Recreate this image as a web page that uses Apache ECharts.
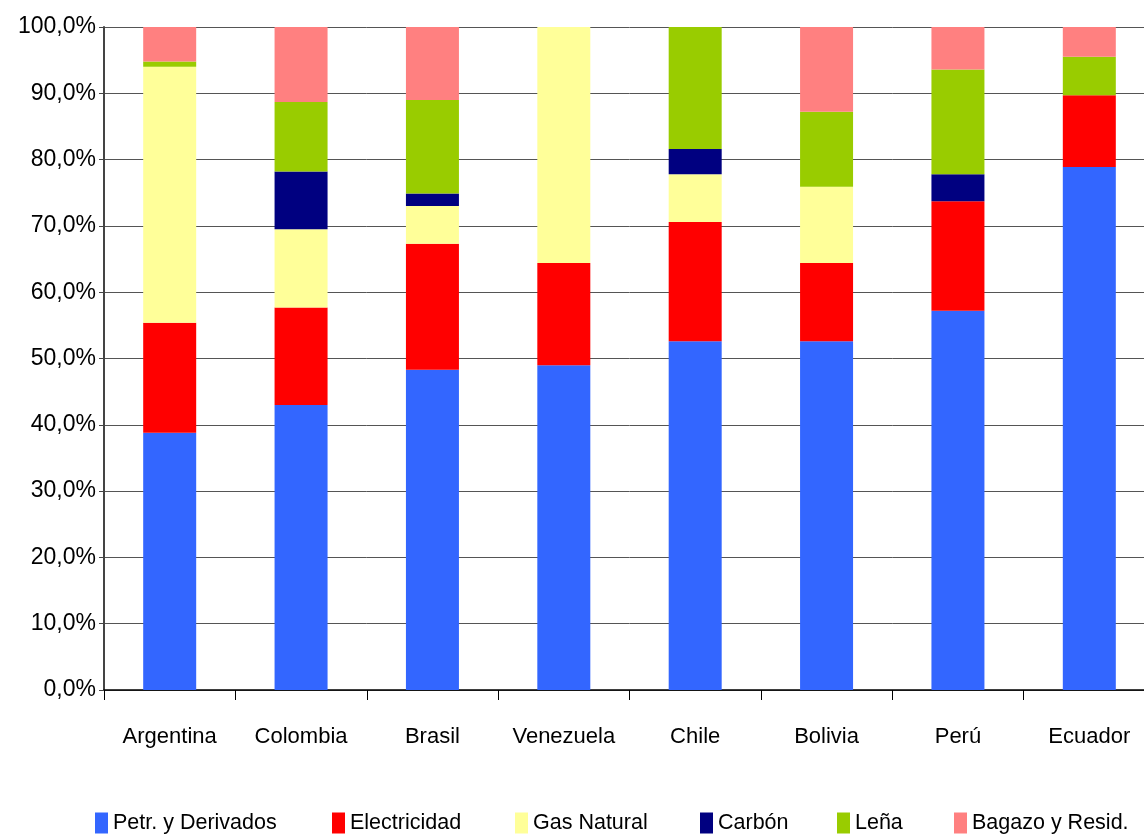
<!DOCTYPE html>
<html>
<head>
<meta charset="utf-8">
<script src="https://cdn.jsdelivr.net/npm/echarts@6/dist/echarts.min.js"></script>
<style>
html,body{margin:0;padding:0;background:#fff;overflow:hidden;width:1144px;height:836px;}
#chart{width:1165px;height:836px;}
</style>
</head>
<body>
<div id="chart"></div>
<script>
const categories = ['Argentina','Colombia','Brasil','Venezuela','Chile','Bolivia','Perú','Ecuador'];
const petroleo     = [38.8, 43.0, 48.3, 49.0, 52.6, 52.6, 57.2, 78.9];
const electricidad = [16.6, 14.7, 19.0, 15.4, 18.0, 11.8, 16.5, 10.8];
const gasNatural   = [38.6, 11.8,  5.7, 35.6,  7.2, 11.5,  0.0,  0.0];
const carbon       = [ 0.0,  8.7,  1.9,  0.0,  3.8,  0.0,  4.1,  0.0];
const lena         = [ 0.8, 10.5, 14.1,  0.0, 18.4, 11.3, 15.8,  5.8];
const bagazo       = [ 5.2, 11.3, 11.0,  0.0,  0.0, 12.8,  6.4,  4.5];
const seriesNames  = ['Petr. y Derivados','Electricidad','Gas Natural','Carbón','Leña','Bagazo y Resid.'];
const seriesData   = [petroleo, electricidad, gasNatural, carbon, lena, bagazo];
const colors = ['#3366FF','#FF0000','#FFFF99','#000080','#99CC00','#FF8080'];
const legendLefts = [95, 332, 515, 700, 837, 954];

const font = 'Liberation Sans, Arial, sans-serif';
const chart = echarts.init(document.getElementById('chart'));
chart.setOption({
  animation:false,
  color: colors,
  grid:{left:104, right:10, top:27, bottom:146, containLabel:false},
  legend: seriesNames.map((n,i)=>({
    left:legendLefts[i], top:812, padding:0, itemWidth:13, itemHeight:21, itemGap:0,
    icon:'rect', selectedMode:false,
    textStyle:{fontFamily:font, fontSize:21.5, color:'#000', padding:[0,0,0,0]},
    data:[n]
  })),
  xAxis:{
    type:'category', data:categories,
    axisLine:{lineStyle:{color:'#000', width:1.5}},
    axisTick:{show:true, interval:0, length:10, lineStyle:{color:'#000'}},
    axisLabel:{interval:0, fontFamily:font, fontSize:22, color:'#000', margin:36}
  },
  yAxis:{
    type:'value', min:0, max:100, interval:10,
    axisLine:{show:true, lineStyle:{color:'#444', width:2}},
    axisTick:{show:true, length:5, lineStyle:{color:'#444'}},
    splitLine:{lineStyle:{color:'#555', width:1}},
    axisLabel:{fontFamily:font, fontSize:23, color:'#000', margin:8,
      formatter: v => v.toFixed(1).replace('.', ',') + '%'}
  },
  series: seriesNames.map((n,i)=>({
    name:n, type:'bar', stack:'total', barWidth:53,
    data: seriesData[i],
    itemStyle:{color:colors[i]}
  }))
});
</script>
</body>
</html>
